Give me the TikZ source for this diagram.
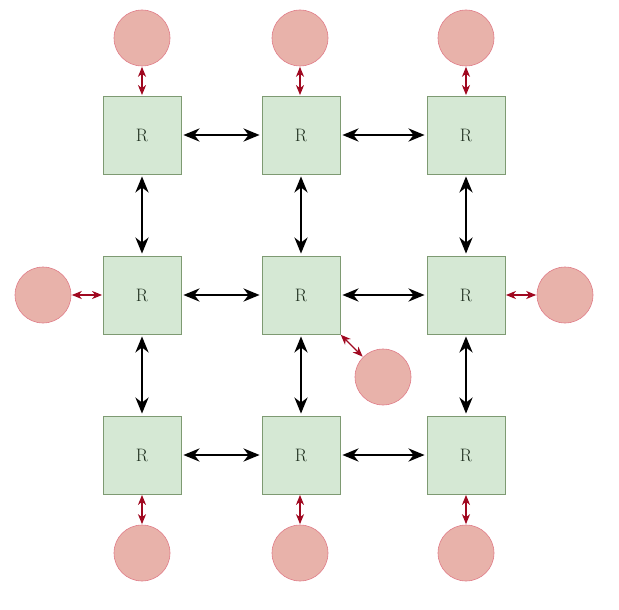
\documentclass[tikz,border=0pt]{standalone}
\usetikzlibrary{arrows.meta}
\definecolor{sqfill}{HTML}{D5E8D4}
\definecolor{sqdraw}{HTML}{7E9A72}
\definecolor{cfill}{HTML}{E8B2AA}
\definecolor{cdraw}{HTML}{E07C88}
\definecolor{redarr}{HTML}{A00820}
\definecolor{rtext}{HTML}{1E2E1E}
\begin{document}
\begin{tikzpicture}[x=1pt,y=-1pt,
  router/.style={draw=sqdraw,fill=sqfill,line width=0.8pt,minimum size=78pt,inner sep=0pt,
    font=\fontsize{18}{18}\selectfont,text=rtext},
  core/.style={circle,draw=cdraw,fill=cfill,line width=0.6pt,minimum size=56pt,inner sep=0pt},
  link/.style={line width=2.5pt,{Stealth[length=16pt,width=13pt,inset=5pt]}-{Stealth[length=16pt,width=13pt,inset=5pt]},shorten <=2pt,shorten >=2pt},
  clink/.style={draw=redarr,line width=1.4pt,{Stealth[length=10pt,width=8pt,inset=3pt]}-{Stealth[length=10pt,width=8pt,inset=3pt]},shorten <=0.5pt,shorten >=0.5pt}]
\useasboundingbox (0,0) rectangle (619,610);
% routers
\node[router] (r11) at (142,135) {R};
\node[router] (r12) at (301,135) {R};
\node[router] (r13) at (466,135) {R};
\node[router] (r21) at (142,295) {R};
\node[router] (r22) at (301,295) {R};
\node[router] (r23) at (466,295) {R};
\node[router] (r31) at (142,455) {R};
\node[router] (r32) at (301,455) {R};
\node[router] (r33) at (466,455) {R};
% cores
\node[core] (c1) at (142,38) {};
\node[core] (c2) at (300,38) {};
\node[core] (c3) at (466,38) {};
\node[core] (c4) at (43,295) {};
\node[core] (c5) at (565,295) {};
\node[core] (c6) at (383,377) {};
\node[core] (c7) at (142,553) {};
\node[core] (c8) at (300,553) {};
\node[core] (c9) at (466,553) {};
% mesh links
\draw[link] (r11) -- (r12);
\draw[link] (r12) -- (r13);
\draw[link] (r21) -- (r22);
\draw[link] (r22) -- (r23);
\draw[link] (r31) -- (r32);
\draw[link] (r32) -- (r33);
\draw[link] (r11) -- (r21);
\draw[link] (r21) -- (r31);
\draw[link] (r12) -- (r22);
\draw[link] (r22) -- (r32);
\draw[link] (r13) -- (r23);
\draw[link] (r23) -- (r33);
% core links
\draw[clink] (c1) -- (r11);
\draw[clink] (c2) -- (r12.north -| c2);
\draw[clink] (c3) -- (r13);
\draw[clink] (c4) -- (r21);
\draw[clink] (c5) -- (r23);
\draw[clink] (c6) -- (r22.south east);
\draw[clink] (c7) -- (r31);
\draw[clink] (c8) -- (r32.south -| c8);
\draw[clink] (c9) -- (r33);
\end{tikzpicture}
\end{document}
